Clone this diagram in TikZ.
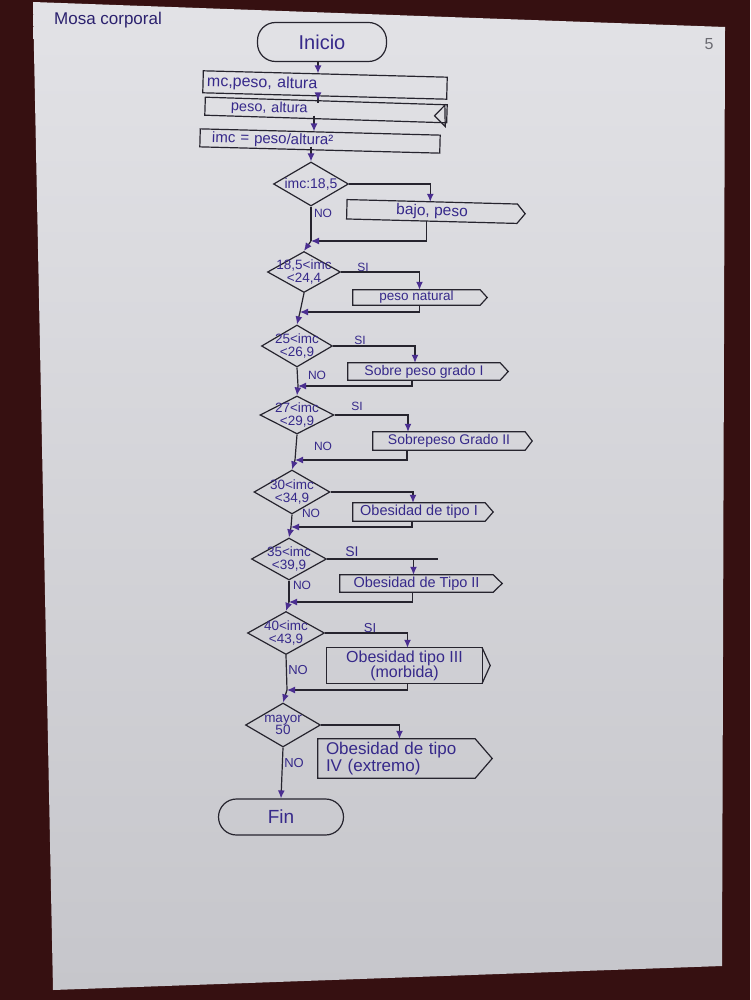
\documentclass[tikz,border=0pt]{standalone}
\usepackage{fontspec}
\setmainfont{Liberation Sans}
\usetikzlibrary{shapes.geometric,arrows.meta,calc}
\definecolor{bgc}{HTML}{361011}
\definecolor{papertop}{HTML}{E2E2E6}
\definecolor{paperbot}{HTML}{C6C6CB}
\definecolor{inkc}{HTML}{26242E}
\definecolor{txtc}{HTML}{36298A}
\definecolor{tipc}{HTML}{4A2E90}
\definecolor{pencil}{HTML}{6B6B72}
\newcommand{\fs}[1]{\fontsize{#1}{#1}\selectfont}
\begin{document}
\begin{tikzpicture}[x=1pt,y=-1pt,
  ink/.style={draw=inkc,line width=1.2pt},
  term/.style={ink,rectangle,rounded corners=18pt,inner sep=0pt,text=txtc,font=\fs{20}},
  iobox/.style={ink,rectangle,inner xsep=4pt,inner ysep=0pt,text=txtc,align=left},
  dec/.style={ink,diamond,inner sep=0pt},
  dtext/.style={text=txtc,font=\fontsize{13.5}{12.5}\selectfont,align=center,inner sep=0pt},
  obox/.style={rectangle,inner sep=0pt,text=txtc},
  lab/.style={text=txtc,font=\fs{12},inner sep=0pt},
  flow/.style={draw=inkc,line width=1.2pt},
  arr/.style={flow,-{Latex[length=8pt,width=7pt,color=tipc]}}]
\useasboundingbox (0,0) rectangle (750,1000);
\fill[bgc] (0,0) rectangle (750,1000);
\shade[top color=papertop,bottom color=paperbot] (33,2) -- (725,27) -- (722,966) -- (53,990) -- cycle;

\node[text=txtc!80!black,font=\fs{17}] (title) at (108,20) {Mosa corporal};
\node[text=pencil,font=\fs{16}] (pnum) at (709,44) {5};

% start and inputs
\node[term,minimum width=129pt,minimum height=39pt] (ini) at (322,42) {Inicio};
\node[iobox,text width=236pt,minimum height=22pt,rotate=-1.5,font=\fs{16}] (in1) at (325,85) {mc,peso, altura};
\node[iobox,text width=234pt,minimum height=18pt,rotate=-1.8,font=\fs{14.5}] (in2) at (326,110) {\hspace*{22pt}peso, altura};
\draw[ink] ([xshift=-3pt,yshift=-1pt]in2.north east) -- ([xshift=-13pt,yshift=-2pt]in2.east) -- ([xshift=-2pt,yshift=-3pt]in2.south east) -- cycle;
\node[iobox,text width=232pt,minimum height=18pt,rotate=-1.5,font=\fs{15}] (in3) at (320,141) {\hspace*{8pt}imc = peso/altura²};

\draw[arr] (ini.south -| 318,0) -- (in1.north -| 318,0);
\draw[arr,shorten <=-6pt] (in1.south -| 318,0) -- (in2.north -| 318,0);
\draw[arr,shorten <=-4pt] (in2.south -| 314,0) -- (in3.north -| 314,0);

% decisions
\node[dec,minimum width=75pt,minimum height=44pt] (d1) at (311,184) {};
\node[dtext,font=\fs{14}] (t1) at (d1) {imc:18,5};
\node[dec,minimum width=73pt,minimum height=41pt] (d2) at (304,272) {};
\node[dtext] (t2) at (d2) {18,5<imc\\<24,4};
\node[dec,minimum width=71pt,minimum height=42pt] (d3) at (297,346) {};
\node[dtext] (t3) at (d3) {25<imc\\<26,9};
\node[dec,minimum width=74pt,minimum height=38pt] (d4) at (297,415) {};
\node[dtext] (t4) at (d4) {27<imc\\<29,9};
\node[dec,minimum width=76pt,minimum height=44pt] (d5) at (292,492) {};
\node[dtext] (t5) at (d5) {30<imc\\<34,9};
\node[dec,minimum width=75pt,minimum height=42pt] (d6) at (289,559) {};
\node[dtext] (t6) at (d6) {35<imc\\<39,9};
\node[dec,minimum width=77pt,minimum height=43pt] (d7) at (286,633) {};
\node[dtext] (t7) at (d7) {40<imc\\<43,9};
\node[dec,minimum width=75pt,minimum height=44pt] (d8) at (283,725) {};
\node[dtext] (t8) at (d8) {mayor\\50};

\node[term,minimum width=125pt,minimum height=36pt,font=\fs{19}] (fin) at (281,817) {Fin};

% output boxes
\node[obox,minimum width=170pt,minimum height=19pt,rotate=-1.5,font=\fs{15.5}] (b1) at (432,211.5) {bajo, peso\hspace{32pt}};
\node[obox,minimum width=127pt,minimum height=15pt,font=\fs{13.5}] (b2) at (416.5,297.5) {peso natural\hspace{8pt}};
\node[obox,minimum width=152pt,minimum height=17pt,font=\fs{14}] (b3) at (424,371.5) {Sobre peso grado I};
\node[obox,minimum width=152pt,minimum height=18pt,font=\fs{14}] (b4) at (449,441) {Sobrepeso Grado II\hspace{14pt}};
\node[obox,minimum width=132pt,minimum height=18pt,font=\fs{14.5}] (b5) at (419,512) {Obesidad de tipo I};
\node[obox,minimum width=153pt,minimum height=17pt,font=\fs{14.5}] (b6) at (416.5,583.5) {Obesidad de Tipo II};
\node[obox,minimum width=155pt,minimum height=35pt,align=center,font=\fontsize{16}{15}\selectfont] (b7) at (404.5,665.5) {Obesidad tipo III\\(morbida)};
\node[obox,minimum width=157pt,minimum height=39pt,text width=141pt,align=left,font=\fontsize{17}{15}\selectfont] (b8) at (396.5,758.5) {Obesidad de tipo\\IV (extremo)};

\foreach \b/\p in {b1/8,b2/7,b3/8,b4/7,b5/8,b6/9,b8/17}{
  \draw[ink] (\b.north east) -- (\b.north west) -- (\b.south west) -- (\b.south east) -- ($(\b.east)+(\p,0)$) -- cycle;
}
\draw[ink] (b7.north west) rectangle (b7.south east);
\draw[ink] (b7.north east) -- ($(b7.east)+(8,0)$) -- (b7.south east);

% junction points on the main line
\coordinate (j1) at (311,241);
\coordinate (j2) at (300,312);
\coordinate (j3) at (298,386);
\coordinate (j4) at (295,460);
\coordinate (j5) at (291,527);
\coordinate (j6) at (289,602);
\coordinate (j7) at (287,690);

% main line
\draw[arr,shorten <=-4pt] (in3.south -| d1.north) -- (d1.north);
\draw[flow] (d1.south) -- (j1);
\draw[arr] (j1) -- (d2.north);
\draw[flow] (d2.south) -- (j2);
\draw[arr] (j2) -- (d3.north);
\draw[flow] (d3.south) -- (j3);
\draw[arr] (j3) -- (d4.north);
\draw[flow] (d4.south) -- (j4);
\draw[arr] (j4) -- (d5.north);
\draw[flow] (d5.south) -- (j5);
\draw[arr] (j5) -- (d6.north);
\draw[flow] (d6.south) -- (j6);
\draw[arr] (j6) -- (d7.north);
\draw[flow] (d7.south) -- (j7);
\draw[arr] (j7) -- (d8.north);
\draw[arr] (d8.south) -- (fin.north);

% yes branches
\draw[arr] (d1.east) -| ([xshift=-2pt]b1.north);
\draw[arr] (d2.east) -| ([xshift=3pt]b2.north);
\draw[arr] (d3.east) -| ([xshift=-9pt]b3.north);
\draw[arr] (d4.east) -| ([xshift=-41pt]b4.north);
\draw[arr] (d5.east) -| ([xshift=-6pt]b5.north);
\draw[flow] (d6.east) -- ++(111,0);
\draw[arr] ([xshift=-3pt]b6.north |- d6.east) -- ([xshift=-3pt]b6.north);
\draw[arr] (d7.east) -| ([xshift=3pt]b7.north);
\draw[arr] (d8.east) -| ([xshift=3pt]b8.north);

% returns
\draw[arr] ([xshift=-5pt]b1.south) |- (j1);
\draw[arr] ([xshift=3pt]b2.south) |- (j2);
\draw[arr] ([xshift=-12pt]b3.south) |- (j3);
\draw[arr] ([xshift=-42pt]b4.south) |- (j4);
\draw[arr] ([xshift=-7pt]b5.south) |- (j5);
\draw[arr] ([xshift=-4pt]b6.south) |- (j6);
\draw[arr] ([xshift=3pt]b7.south) |- (j7);

% labels
\node[lab] (no1) at (323,213) {NO};
\node[lab] (si2) at (363,267) {SI};
\node[lab] (si3) at (360,340) {SI};
\node[lab] (no3) at (317,375) {NO};
\node[lab] (si4) at (357,406) {SI};
\node[lab] (no4) at (323,446) {NO};
\node[lab] (no5) at (311,513) {NO};
\node[lab,font=\fs{14}] (si6) at (352,552) {SI};
\node[lab] (no6) at (302,585) {NO};
\node[lab,font=\fs{13}] (si7) at (370,628) {SI};
\node[lab,font=\fs{13}] (no7) at (298,670) {NO};
\node[lab,font=\fs{13}] (no8) at (294,763) {NO};
\end{tikzpicture}
\end{document}
